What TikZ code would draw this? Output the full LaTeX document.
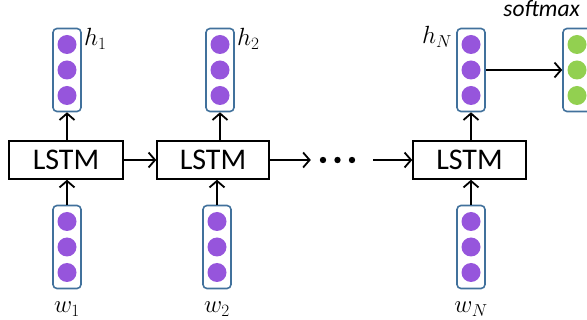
\documentclass[tikz,border=0pt]{standalone}
\usepackage{fontspec}
\setmainfont{Carlito}
\usepackage{tikz}
\usetikzlibrary{arrows.meta}

\definecolor{vecborder}{RGB}{65,113,156}
\definecolor{unitpurple}{RGB}{150,85,220}
\definecolor{unitgreen}{RGB}{146,208,80}

\begin{document}
\begin{tikzpicture}[x = 1pt, y = -1pt,
    lstm/.style = {draw, line width = 1.5pt, minimum height = 38pt, inner sep = 0pt, font = \fontsize{30}{36}\selectfont},
    vec/.style = {draw = vecborder, line width = 1.6pt, rounded corners = 4pt, minimum width = 28pt, minimum height = 83pt, inner sep = 0pt},
    unit/.style = {circle, inner sep = 0pt, minimum size = 19pt},
    lbl/.style = {inner sep = 0pt, font = \fontsize{25}{30}\selectfont},
    >={Straight Barb[length = 6.5pt, width = 15pt]}]
      \useasboundingbox (0,0) rectangle (587,320);
      % recurrent cells
      \node[lstm, minimum width = 114pt] (l1) at (66,160) {LSTM};
      \node[lstm, minimum width = 112pt] (l2) at (213,160) {LSTM};
      \node[lstm, minimum width = 113pt] (l3) at (469.5,160) {LSTM};
      \node[inner sep = 0pt, minimum width = 62pt, minimum height = 6pt] (dots) at (342,160) {};
      \foreach \dx in {-19,-4.5,10}
        \fill (dots.center) ++(\dx,0) circle (3.2pt);
      % word and hidden vectors
      \foreach \n/\x/\y/\c in {h1/67/70/unitpurple, h2/220/70/unitpurple, hN/471/70/unitpurple,
                               w1/67/247/unitpurple, w2/217/247/unitpurple, wN/471/247/unitpurple,
                               sm/577/70/unitgreen}
      {
        \node[vec] (\n) at (\x,\y) {};
        \foreach \k/\dy in {1/-25.5, 2/0, 3/25.5}
          \node[unit, fill = \c] (\n-\k) at (\x,\y+\dy) {};
      }
      % labels
      \node[lbl, anchor = base west] (h1lab) at ([xshift = 2pt, yshift = -18pt]h1.north east) {$h_1$};
      \node[lbl, anchor = base west] (h2lab) at ([xshift = 2pt, yshift = -18pt]h2.north east) {$h_2$};
      \node[lbl, anchor = base east] (hNlab) at ([xshift = -4pt, yshift = -16pt]hN.north west) {$h_N$};
      \node[lbl, anchor = base] (w1lab) at ([yshift = -23pt]w1.south) {$w_1$};
      \node[lbl, anchor = base] (w2lab) at ([yshift = -23pt]w2.south) {$w_2$};
      \node[lbl, anchor = base] (wNlab) at ([yshift = -23pt]wN.south) {$w_N$};
      \node[lbl, anchor = base east, font = \fontsize{23.5}{28}\selectfont\itshape] (smlab) at ([xshift = 3pt, yshift = 11pt]sm.north) {softmax};
      % connections
      \path[->, line width = 1.8pt]
                (w1) edge (w1 |- l1.south)
                (w2) edge (w2 |- l2.south)
                (wN) edge (wN |- l3.south)
                (l1.north -| h1) edge (h1)
                (l2.north -| h2) edge (h2)
                (l3.north -| hN) edge (hN)
                (l1) edge (l2)
                (l2) edge (dots)
                (dots) edge (l3)
                (hN) edge (sm);
\end{tikzpicture}
\end{document}
